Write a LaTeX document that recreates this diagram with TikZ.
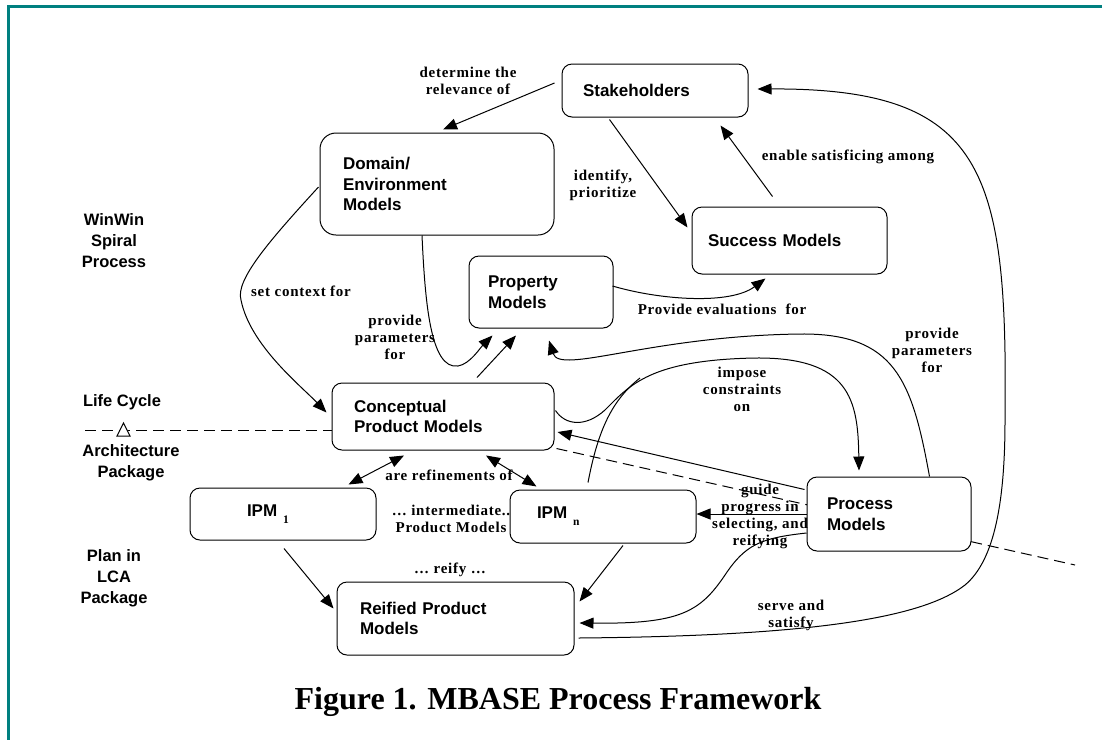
\documentclass[tikz,border=0pt]{standalone}
\usepackage{fontspec}
\setmainfont{Liberation Serif}
\newfontfamily\boxfont{Liberation Sans}
\newfontfamily\lblfont[LetterSpace=5]{Liberation Serif}
\usetikzlibrary{arrows.meta,calc,backgrounds}
\definecolor{frameteal}{RGB}{0,128,128}
\newcommand\ipmsub[1]{\hspace{6pt}\raisebox{-7pt}{\lblfont\bfseries\fontsize{11.5}{11.5}\selectfont #1}}

\begin{document}
\begin{tikzpicture}[x=1pt,y=-1pt,
  model/.style={draw, line width=1pt, fill=white, rounded corners=10pt, align=left, inner ysep=0pt,
    font=\boxfont\bfseries\fontsize{17}{20.5}\selectfont},
  lbl/.style={align=center, inner sep=0pt, font=\lblfont\bfseries\fontsize{15}{17}\selectfont},
  side/.style={align=center, inner sep=0pt, font=\boxfont\bfseries\fontsize{16.5}{21}\selectfont},
  arr/.style={line width=1pt, -{Triangle[length=14pt,width=11pt]}},
  dbl/.style={line width=1pt, {Triangle[length=14pt,width=11pt]}-{Triangle[length=14pt,width=11pt]}},
  dashline/.style={line width=1pt, dash pattern=on 11pt off 6pt}]

\useasboundingbox (0,0) rectangle (1102,740);
\draw[frameteal, line width=3pt] (1102,6.5) -- (8,6.5) -- (8,740);

\node[model, text width=144pt, inner xsep=21pt, minimum height=53pt] (stake) at (655,90.5) {Stakeholders};
\node[model, rounded corners=16pt, text width=188pt, inner xsep=23pt, minimum height=102pt] (dom) at (437,184) {Domain/\\Environment\\Models};
\node[model, text width=163pt, inner xsep=16pt, minimum height=67pt] (succ) at (789.5,240.5) {Success Models};
\node[model, text width=106pt, inner xsep=19pt, minimum height=72pt] (prop) at (541,292) {Property\\Models};
\node[model, text width=178pt, inner xsep=22pt, minimum height=67pt] (conc) at (443,416.5) {Conceptual\\Product Models};
\node[model, text width=72pt, inner xsep=57pt, minimum height=52pt] (ipmA) at (283,514) {IPM\ipmsub{1}};
\node[model, text width=132pt, inner xsep=27pt, minimum height=53pt] (ipmN) at (603,516.5) {IPM\ipmsub{n}};
\node[model, text width=124pt, inner xsep=20pt, minimum height=74pt] (proc) at (889,514) {Process\\Models};
\node[model, text width=191pt, inner xsep=23pt, minimum height=73pt] (reif) at (455.5,618.5) {Reified Product\\Models};

\coordinate (lcL) at (85,430);
\coordinate (lcR) at (1075,565);
\begin{scope}[on background layer]
\draw[dashline] (lcL) -- (lcL -| conc.west);
\draw[dashline] ($(conc.south east)+(2,-2)$) -- (lcR);
\end{scope}
\draw[line width=1pt, fill=white] (117,436) -- (123.5,423) -- (130,436) -- cycle;

\node[side] (win) at (114,241) {WinWin\\Spiral\\Process};
\node[side] (life) at (122,402) {Life Cycle};
\node[side] (arch) at (131,462.5) {Architecture\\Package};
\node[side] (plan) at (114,578) {Plan in\\LCA\\Package};

\draw[arr] ($(stake.west)+(-7,-7.5)$) -- ($(dom.north)+(6,-3)$);
\draw[arr] ($(stake.south west)+(48,2)$) -- ($(succ.north west)+(-4,21)$);
\draw[arr] ($(succ.north west)+(81,-10)$) -- ($(stake.south west)+(159,8)$);
\draw[arr] ($(prop.east)+(-1,-6)$) .. controls (660,300) and (730,305) .. ($(succ.south west)+(74,4)$);
\draw[arr] ($(dom.west)+(-1,3)$) .. controls (270,240) and (235,280) .. (241,300)
  .. controls (250,345) and (300,385) .. ($(conc.west)+(-5,-4)$);
\draw[arr] ($(dom.south)+(-15,0)$) .. controls (425,300) and (430,370) .. (458,366)
  .. controls (470,364) and (480,348) .. ($(prop.south west)+(24,7)$);
\draw[arr] ($(conc.north)+(34,-5)$) -- ($(prop.south)+(-25,7)$);
\draw[arr] ($(proc.north east)+(-42,0)$) .. controls (912,380) and (895,333) .. (800,334)
  .. controls (650,336) and (560,375) .. ($(prop.south)+(8,12)$);
\draw[arr] ($(conc.east)+(1,-6)$) .. controls (565,425) and (585,428) .. (605,410)
  .. controls (630,385) and (650,360) .. (755,358)
  .. controls (850,357) and (858,400) .. ($(proc.north)+(-30,-6)$);
\draw[line width=1pt] ($(ipmN.north)+(-15,-7)$) .. controls (598,430) and (612,400) .. (640,378);
\draw[arr] ($(proc.north west)+(-2,13)$) -- ($(conc.east)+(3,15.5)$);
\draw[arr] (proc.west) -- (proc.west -| ipmN.east);
\draw[arr] ($(proc.west)+(0,19)$) .. controls (760,538) and (745,545) .. (725,575)
  .. controls (700,612) and (680,624) .. ($(reif.east)+(5,4.5)$);
\draw[arr] ($(ipmN.south)+(20,2)$) -- ($(reif.north east)+(5,20)$);
\draw[arr] ($(ipmA.south)+(1,8)$) -- ($(reif.west)+(-3,-10)$);
\draw[dbl] ($(conc.south)+(-39,5)$) -- ($(ipmA.north east)+(-28,-3)$);
\draw[dbl] ($(conc.south)+(43,5)$) -- ($(ipmN.north west)+(27,-3)$);
\draw[arr] ($(reif.east)+(4,19.5)$) .. controls (800,636) and (920,620) .. (965,585)
  .. controls (995,560) and (1005,500) .. (1005,420)
  .. controls (1008,170) and (985,88) .. ($(stake.east)+(9,-1.5)$);

\node[lbl] (lDet) at (468,80.5) {determine the\\relevance of};
\node[lbl] (lIdent) at (603,185) {identify,\\prioritize};
\node[lbl] (lEnable) at (848,157) {enable satisficing among};
\node[lbl] (lSet) at (301,291) {set context for};
\node[lbl] (lProvA) at (395,337) {provide\\parameters\\for};
\node[lbl] (lEval) at (722,309) {Provide evaluations\ \ for};
\node[lbl] (lProvB) at (932,350.5) {provide\\parameters\\for};
\node[lbl] (lImpose) at (742,389) {impose\\constraints\\on};
\node[lbl] (lRefine) at (449,475) {are refinements of};
\node[lbl] (lInter) at (451,518.5) {\ldots{} intermediate..\\Product Models};
\node[lbl] (lReify) at (450,570) {\ldots{} reify \ldots};
\node[lbl] (lGuide) at (760,516.5) {guide\\progress in\\selecting, and\\reifying};
\node[lbl] (lServe) at (791,615.5) {serve and\\satisfy};

\node[font=\bfseries\fontsize{32}{36}\selectfont, anchor=base] (cap) at (558,709) {Figure 1. MBASE Process Framework};

\end{tikzpicture}
\end{document}
